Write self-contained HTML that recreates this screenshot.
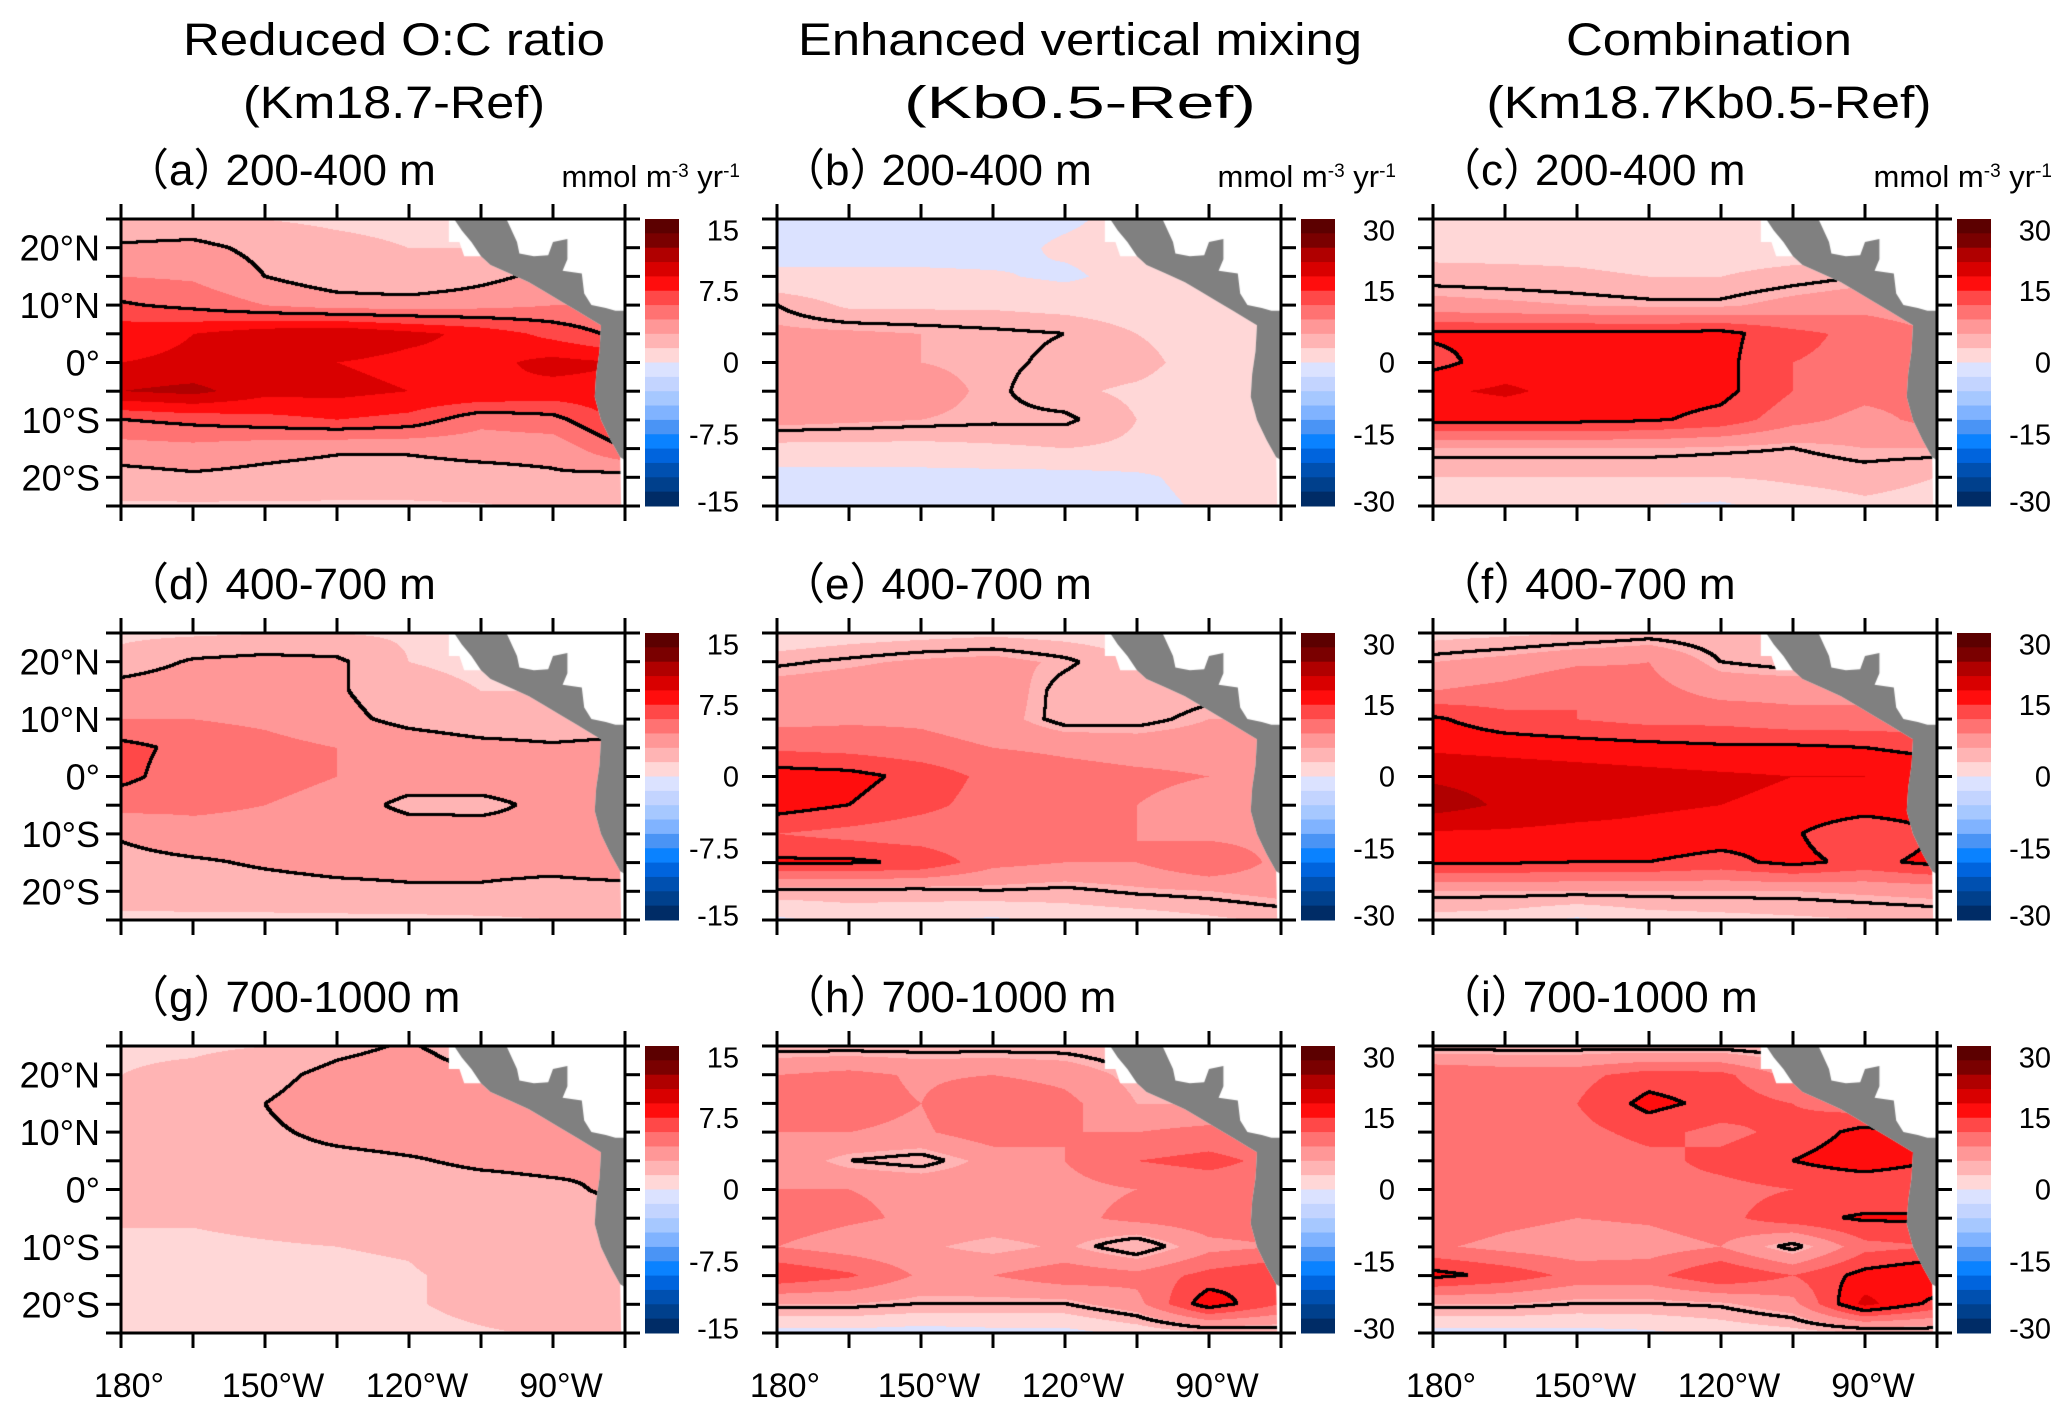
<!DOCTYPE html>
<html><head><meta charset="utf-8"><style>
html,body{margin:0;padding:0;background:#fff;}
#wrap{position:relative;width:2067px;height:1417px;overflow:hidden;background:#fff;}
canvas{position:absolute;}
svg{position:absolute;left:0;top:0;}
text{font-family:"Liberation Sans","Noto Sans CJK SC",sans-serif;fill:#000;}
</style></head><body>
<div id="wrap">
<svg id="ov" width="2067" height="1417"></svg>
</div>
<script>
const LATS=[25,20,15,10,5,0,-5,-10,-15,-20,-25];
const LONS=[180,165,150,135,120,105,90,75];
const valsA=[[2.0,2.0,1.5,1.2,1.0,1.0,1.0,1.0],[3.2,3.4,2.6,2.0,1.5,1.5,1.5,1.5],[4.5,4.3,3.0,2.0,1.5,2.5,3.5,3.5],[6.2,5.5,4.5,3.8,3.8,4.0,4.5,4.5],[8.5,9.0,10.0,10.5,9.5,8.5,7.0,5.5],[9.0,9.2,9.0,9.0,8.5,8.5,9.5,9.0],[10.5,11,9.5,9.5,9.0,9.0,8.5,8.5],[6.0,6.5,7.0,7.5,7.0,5.0,5.5,8.0],[3.8,4.0,3.5,3.2,3.2,3.5,3.5,6.0],[2.5,2.8,2.6,2.4,2.4,2.5,2.8,2.5],[1.3,1.3,1.3,1.3,1.3,1.4,1.8,1.5]];
const valsB=[[-1,-1,-1,-1,-0.5,1,1,1],[-1,-1,-1,-1,0.5,1,1,1],[0.5,0.5,0.5,0.3,-0.5,1,1,1],[5.0,2.5,2.5,2.5,2,1.5,1.5,1],[6.5,6.5,6.0,5.5,5.0,3.0,1.5,1],[6.5,6.5,6.0,5.5,4.5,4.0,1.5,1],[8.5,8.0,7.0,5.5,3.5,2.5,1.5,1],[7.0,6.5,6.0,5.5,5.5,3.0,1.5,1],[2.0,2.0,2.0,2.5,3.0,2.5,1.5,1],[-1,-1,-1,-1,-1,-0.5,1,1],[-1,-1,-1,-1,-1,-1,0.5,1]];
const valsC=[[1.5,1.5,1.5,1.5,1.0,1,1,1],[2.0,2.0,2.0,1.5,1.5,1.5,1,1],[4.0,3.8,3.5,3.0,3.0,4.0,5,5],[7.0,6.5,6.0,5.5,5.5,7.0,8,7],[15.5,15.5,15.5,15.5,16,13,11,9],[14.0,16.5,16.5,16.5,16,12,11,10],[17.5,18.5,17,16.5,16,12,10,10],[16.0,16.0,16,15.5,14,10,8,10],[6.0,6.0,6.0,6.0,5.5,5,6,6],[3.0,3.0,3.0,3.0,3.0,3.5,4.0,3],[2.0,2.0,1.5,0,-0.5,1.5,2.5,2]];
const valsD=[[1.2,1.3,1.5,1.5,1.3,1.0,1,1],[2.0,3.2,3.5,3.3,1.5,1.2,1,1],[3.8,4.2,4.0,3.2,2.0,1.5,1.5,1.5],[4.5,4.5,4.2,3.5,2.5,2.0,2.0,2.0],[6.5,5.5,5.0,4.5,4.0,3.5,3.2,3.5],[6.5,5.0,5.0,4.5,4.0,4.0,4.0,4.0],[5.0,4.8,4.5,4.0,2.5,2.5,3.5,4.0],[3.2,4.0,4.0,4.0,4.0,3.8,3.5,4.0],[2.5,2.8,3.2,3.5,3.5,3.5,3.5,4.0],[2.2,2.3,2.4,2.6,2.8,2.8,2.5,2.5],[1.2,1.2,1.2,1.2,1.2,1.3,1.5,1.5]];
const valsE=[[0.5,1.5,2.0,2.5,2.0,1.5,1,1],[4.5,5.5,6.5,7.0,5.5,3,3,3],[7.5,8.0,8.5,8.0,4.0,3.0,4,4],[8.0,8.5,8.5,7.5,4.0,4.0,6,6],[11.5,11,10,9,8.5,8,8,7],[16.5,16,14,11,10,9.5,9,8],[16.5,15,13,10.5,10,9,8,8],[12.0,11,10,9.5,9,9,8,8],[15.5,15.5,14.5,10,9,9,12,8],[4.5,4.5,4.5,5.0,4.5,5.5,6,7],[-0.5,1,0.5,-0.5,1,1.5,2.5,3.5]];
const valsF=[[2.0,2.5,3.0,4.0,3.5,3,3,3],[6.0,7.0,8.5,9,5,4,4,4],[9.0,10,12,10,8,8,8,8],[15.5,13,12,11,11,10,10,10],[17.5,17,16.5,16,15.5,15.5,15,14],[20.5,20,19.5,19,18.5,18,18,17],[22.5,20.5,19.5,18.5,18,17.5,17,17],[17.5,17.5,17,17,16.5,15.5,12,15],[15.5,15.5,15,15,14,16,14,16],[6.0,6,6,6,6,6,6.5,7],[2.0,1.5,-0.5,1.5,2,2.5,3,3.5]];
const valsG=[[1.3,1.3,1.5,2.5,3.2,2.0,1.5,1.5],[1.5,1.8,2.5,3.5,4.0,3.0,2.5,2.5],[2.2,2.3,3.0,3.8,3.8,3.4,3.2,3.0],[2.3,2.4,2.8,3.3,3.5,3.4,3.5,3.2],[2.3,2.4,2.6,2.7,2.9,3.2,3.3,3.0],[2.2,2.3,2.3,2.4,2.5,2.6,2.8,3.2],[1.6,1.6,1.8,2.0,2.2,2.4,2.6,2.8],[1.3,1.3,1.4,1.5,1.6,2.2,2.5,2.5],[1.2,1.2,1.2,1.3,1.4,1.8,2.4,2.4],[1.2,1.2,1.2,1.2,1.4,1.8,2.3,2.3],[1.2,1.2,1.2,1.2,1.2,1.4,1.6,1.6]];
const valsH=[[4.0,4.0,4.0,4.0,4.0,3,3,3],[9.0,10,8.5,9,8,5,5,5],[11.5,10,9,12,10,6,6,6],[9.0,9,8.5,11,9,9,10,9],[8.0,5,4,7,9,12,13,11],[9.0,9,8.5,8,8,9,10,10],[10.5,9.5,8.5,8,8,10,11,11],[9.0,7.5,6.5,5,6.5,3,8,9],[14.5,12.5,8.5,9,11,10,13,15],[6.0,6,5,5,5,8,17,12],[-1.0,-1,-1.5,-1,-1,1,3,3.5]];
const valsI=[[4.0,4.0,4.0,4.0,4.0,3,3,3],[12.0,11,11,13.5,13,8,8,8],[12.0,11,12,16,14,12,10,10],[11.0,10,11,13,11,13,16,14],[11.0,10,10,11,13,15,17,15],[11.0,10.5,10,11,11,12,12,12],[11.5,10,9,9.5,11,14,15.5,15.5],[9.5,8,7,7.5,9,4,11,12],[16.0,14,11,11,15,12,16,18],[6.0,6,5,5,5.5,8,19,14],[-1.0,-1,-1,-0.5,1,2,3,3.5]];
const TICKS15=['15','7.5','0','-7.5','-15'];
const TICKS30=['30','15','0','-15','-30'];
const LEVELS_A=[3,6];
const LEVELS_B=[5,15];
const XLABELS=['180°','150°W','120°W','90°W'];
const XLABEL_LONS=[180,150,120,90];
const YLABELS=['20°N','10°N','0°','10°S','20°S'];
const YLABEL_LATS=[20,10,0,-10,-20];
const COLS=[['Reduced O:C ratio','(Km18.7-Ref)'],['Enhanced vertical mixing','(Kb0.5-Ref)'],['Combination','(Km18.7Kb0.5-Ref)']];
const COLORS=['#5c0000','#7a0000','#b00000','#d90000','#ff0d0d','#ff4848','#ff7272','#ff9797','#ffb4b4','#ffd7d7','#dbe2ff','#c3d4ff','#a6c8ff','#80b3ff','#4a94f5','#0a82ff','#0064dd','#0050b0','#00408c','#002c66'];
const COAST=[[111.7,25],[111.7,21],[109.5,21],[108.5,18.5],[105,18.5],[103,17],[99,15.5],[95,14],[92,12.5],[88,10.5],[85,9],[82,7.5],[80,6.5],[80.3,2],[81,-2],[81.3,-6],[80,-10],[78,-13.5],[76,-16.5],[75.8,-25],[75,-25],[75,25]];
const LAND=[[110.6,25],[99.7,25],[97.5,21],[97,19],[94,18.5],[91,18.7],[90,21],[87,21.5],[87,18],[88,16],[84,15.5],[83.5,12],[82,10],[79,9.5],[77,9],[75,9],[75,-17],[76,-16.5],[78,-13.5],[80,-10],[81.3,-6],[81,-2],[80.3,2],[80,6.5],[82,7.5],[85,9],[88,10.5],[92,12.5],[95,14],[99,15.5],[103,17],[105,18.5],[107,21],[109,23]];

const PANELS=[
 {id:'a',vals:valsA,col:0,row:0,max:15,lev:LEVELS_A,depth:'200-400 m'},
 {id:'b',vals:valsB,col:1,row:0,max:30,lev:LEVELS_B,depth:'200-400 m'},
 {id:'c',vals:valsC,col:2,row:0,max:30,lev:LEVELS_B,depth:'200-400 m'},
 {id:'d',vals:valsD,col:0,row:1,max:15,lev:LEVELS_A,depth:'400-700 m'},
 {id:'e',vals:valsE,col:1,row:1,max:30,lev:LEVELS_B,depth:'400-700 m'},
 {id:'f',vals:valsF,col:2,row:1,max:30,lev:LEVELS_B,depth:'400-700 m'},
 {id:'g',vals:valsG,col:0,row:2,max:15,lev:LEVELS_A,depth:'700-1000 m'},
 {id:'h',vals:valsH,col:1,row:2,max:30,lev:LEVELS_B,depth:'700-1000 m'},
 {id:'i',vals:valsI,col:2,row:2,max:30,lev:LEVELS_B,depth:'700-1000 m'}];
const COLX=[121,777,1433], ROWY=[219,633,1046], PW=504, PH=287;
const TITLEX=[394,1080,1709], TITLEW=[422,564,286], TITLEW2=[302,352,445];
const wrap=document.getElementById('wrap'), ov=document.getElementById('ov');
const NS='http://www.w3.org/2000/svg';
function mk(tag,attrs,parent){const e=document.createElementNS(NS,tag);for(const k in attrs)e.setAttribute(k,attrs[k]);(parent||ov).appendChild(e);return e;}
function hex(c){return [parseInt(c.slice(1,3),16),parseInt(c.slice(3,5),16),parseInt(c.slice(5,7),16)];}
const RGB=COLORS.map(hex);

COLS.forEach((t,i)=>{
  const t1=mk('text',{x:TITLEX[i],y:55,'font-size':45,'text-anchor':'middle',textLength:TITLEW[i],lengthAdjust:'spacingAndGlyphs'});
  t1.textContent=t[0];
  
  
  const t2=mk('text',{x:TITLEX[i],y:118,'font-size':45,'text-anchor':'middle',textLength:TITLEW2[i],lengthAdjust:'spacingAndGlyphs'});
  t2.textContent=t[1];
  
  
});

PANELS.forEach(p=>{
  const X0=COLX[p.col], Y0=ROWY[p.row];
  const xOf=lon=>X0+(180-lon)/105*PW, yOf=lat=>Y0+(25-lat)/50*PH;
  const cv=document.createElement('canvas');
  cv.width=PW;cv.height=PH;cv.style.left=X0+'px';cv.style.top=Y0+'px';
  
  
  wrap.insertBefore(cv,ov);
  const ctx=cv.getContext('2d');
  const img=ctx.createImageData(PW,PH);
  const V=new Float32Array(PW*PH);
  for(let py=0;py<PH;py++){
    const lat=25-py/(PH-1)*50; const fy=(25-lat)/5; const iy=Math.min(9,Math.floor(fy)), ty=fy-iy;
    for(let px=0;px<PW;px++){
      const lon=180-px/(PW-1)*105; const fx=(180-lon)/15; const ix=Math.min(6,Math.floor(fx)), tx=fx-ix;
      const a=p.vals[iy][ix],b=p.vals[iy][ix+1],c=p.vals[iy+1][ix],d=p.vals[iy+1][ix+1];
      V[py*PW+px]=(a*(1-tx)+b*tx)*(1-ty)+(c*(1-tx)+d*tx)*ty;
    }
  }
  for(let k=0;k<PW*PH;k++){
    let band=Math.floor((V[k]+p.max)/(2*p.max)*20); band=Math.max(0,Math.min(19,band));
    const c=RGB[19-band]; img.data[k*4]=c[0];img.data[k*4+1]=c[1];img.data[k*4+2]=c[2];img.data[k*4+3]=255;
  }
  const blk=(x,y)=>{if(x>=0&&y>=0&&x<PW&&y<PH){const k=(y*PW+x)*4;img.data[k]=0;img.data[k+1]=0;img.data[k+2]=0;}};
  p.lev.forEach(L=>{
    for(let py=0;py<PH-1;py++)for(let px=0;px<PW-1;px++){
      const s=V[py*PW+px]>=L;
      if((V[py*PW+px+1]>=L)!==s||(V[(py+1)*PW+px]>=L)!==s){
        for(let dy=-1;dy<=1;dy++)for(let dx=-1;dx<=1;dx++)blk(px+dx,py+dy);
      }
    }
  });
  ctx.putImageData(img,0,0);
  const poly=(pts,col)=>{ctx.beginPath();pts.forEach((q,i)=>{const x=(180-q[0])/105*PW,y=(25-q[1])/50*PH;i?ctx.lineTo(x,y):ctx.moveTo(x,y);});ctx.closePath();ctx.fillStyle=col;ctx.fill();};
  poly(COAST,'#ffffff');
  poly(LAND,'#808080');

  const fr=mk('rect',{x:X0,y:Y0,width:PW,height:PH,fill:'none',stroke:'#000','stroke-width':3});
  
  
  LONS.forEach(lon=>{const x=xOf(lon);
    mk('line',{x1:x,x2:x,y1:Y0,y2:Y0-15,stroke:'#000','stroke-width':3});
    mk('line',{x1:x,x2:x,y1:Y0+PH,y2:Y0+PH+15,stroke:'#000','stroke-width':3});});
  LATS.forEach(lat=>{const y=yOf(lat);
    mk('line',{x1:X0,x2:X0-15,y1:y,y2:y,stroke:'#000','stroke-width':3});
    mk('line',{x1:X0+PW,x2:X0+PW+15,y1:y,y2:y,stroke:'#000','stroke-width':3});});
  const pt=mk('text',{x:X0+4,y:Y0-34,'font-size':44});
  pt.innerHTML='<tspan font-family="Noto Sans CJK SC">（</tspan>'+p.id+'<tspan font-family="Noto Sans CJK SC">）</tspan><tspan dx="-12">'+p.depth+'</tspan>';
  
  
  if(p.row===0){
    const u=mk('text',{x:X0+619,y:Y0-32,'font-size':31,'text-anchor':'end'});
    u.innerHTML='mmol m<tspan baseline-shift="super" font-size="19">-3</tspan> yr<tspan baseline-shift="super" font-size="19">-1</tspan>';
    
    
  }
  const cbx=X0+524, cbw=34, bh=PH/20;
  const cbg=mk('g',{});
  
  
  COLORS.forEach((c,i)=>mk('rect',{x:cbx,y:Y0+i*bh,width:cbw,height:bh+0.5,fill:c},cbg));
  const ticks=p.max===15?TICKS15:TICKS30;
  const fr2=[0.04,0.25,0.5,0.75,0.985];
  ticks.forEach((t,i)=>{const tt=mk('text',{x:X0+618,y:Y0+fr2[i]*PH+10,'font-size':29,'text-anchor':'end'});tt.textContent=t;
    
    });
  if(p.col===0){
    YLABELS.forEach((t,i)=>{const tt=mk('text',{x:X0-21,y:yOf(YLABEL_LATS[i])+13,'font-size':36,'text-anchor':'end'});tt.textContent=t;
      
      });
  }
  if(p.row===2){
    XLABELS.forEach((t,i)=>{const tt=mk('text',{x:xOf(XLABEL_LONS[i])+8,y:1397,'font-size':34,'text-anchor':'middle'});tt.textContent=t;
      
      });
  }
});
</script>
</body></html>
